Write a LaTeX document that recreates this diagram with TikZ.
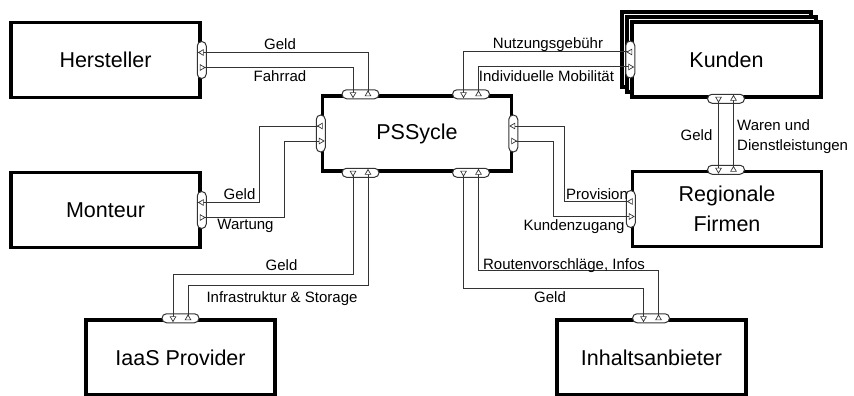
\documentclass[tikz,border=0pt]{standalone}
\usepackage{fontspec}
\setmainfont{Liberation Sans}
\usetikzlibrary{shapes.geometric}
\newcommand\mkvport[2]{\node[vport] (#1) at (#2) {};
  \coordinate (#1-a) at ([yshift=7.5pt]#1.center);
  \coordinate (#1-b) at ([yshift=-7.5pt]#1.center);}
\newcommand\mkhport[2]{\node[hport] (#1) at (#2) {};
  \coordinate (#1-a) at ([xshift=-7.5pt]#1.center);
  \coordinate (#1-b) at ([xshift=7.5pt]#1.center);}
\begin{document}
\begin{tikzpicture}[x=1pt,y=-1pt,
 box/.style={draw=black, line width=3.5pt, fill=white, minimum width=189pt, minimum height=75pt, inner sep=0pt, font=\fontsize{21.5}{30.5}\selectfont, align=center},
 hport/.style={draw=black!80, line width=1pt, fill=white, rounded corners=4.5pt, minimum width=37pt, minimum height=9pt, inner sep=0pt},
 vport/.style={hport, minimum width=9pt, minimum height=37pt},
 conn/.style={draw=black!80, line width=1pt},
 tri/.style={draw=black!80, fill=white, line width=0.7pt, regular polygon, regular polygon sides=3, minimum size=6.5pt, inner sep=0pt},
 lbl/.style={font=\fontsize{15}{18}\selectfont, inner sep=0pt, anchor=base}]
\useasboundingbox (0,0) rectangle (854,396);
% boxes
\node[box] (h) at (105.5,60) {Hersteller};
\node[box] (m) at (105.5,210) {Monteur};
\node[box] (ps) at (417,133.5) {PSSycle};
\node[box] (kb) at (716.5,49.5) {};
\node[box] (km) at (721.5,54.5) {};
\node[box] (k) at (726.5,59.5) {Kunden};
\node[box] (rf) at (727,209) {Regionale\\Firmen};
\node[box] (ia) at (180.5,357.5) {IaaS Provider};
\node[box] (in) at (651.5,357.5) {Inhaltsanbieter};
% ports
\mkvport{ph}{h.east}
\mkvport{pm}{m.east}
\mkhport{ptl}{[xshift=-56.5pt]ps.north}
\mkhport{ptr}{[xshift=54pt]ps.north}
\mkvport{pl}{ps.west}
\mkvport{prt}{ps.east}
\mkhport{pbl}{[xshift=-56.5pt]ps.south}
\mkhport{pbr}{[xshift=54pt]ps.south}
\mkvport{pk}{k.west}
\mkhport{pkb}{[xshift=-0.5pt]k.south}
\mkvport{prf}{rf.west}
\mkhport{prft}{[xshift=-1pt]rf.north}
\mkhport{pi}{ia.north}
\mkhport{pin}{[xshift=-0.5pt]in.north}
% connectors
\draw[conn] (ptl-b) |- (ph-a);
\draw[conn] (ph-b) -| (ptl-a);
\draw[conn] (pl-a) -- ++(-61,0) |- (pm-a);
\draw[conn] (pm-b) -- ++(83,0) |- (pl-b);
\draw[conn] (pk-a) -| (ptr-a);
\draw[conn] (ptr-b) |- (pk-b);
\draw[conn] (prf-a) -- ++(-66,0) |- (prt-a);
\draw[conn] (prt-b) -- ++(40,0) |- (prf-b);
\draw[conn] (pkb-a) -- (prft-a);
\draw[conn] (prft-b) -- (pkb-b);
\draw[conn] (pbl-a) -- ++(0,102) -| (pi-a);
\draw[conn] (pi-b) -- ++(0,-33) -| (pbl-b);
\draw[conn] (pbr-a) -- ++(0,116) -| (pin-a);
\draw[conn] (pin-b) -- ++(0,-48) -| (pbr-b);
% triangles
\foreach \p in {ph,pm,pl,prt,pk,prf} {
  \node[tri, shape border rotate=90] (\p-ta) at (\p-a) {};
  \node[tri, shape border rotate=-90] (\p-tb) at (\p-b) {};
}
\foreach \p in {ptl,ptr,pbl,pbr,pkb,prft,pi,pin} {
  \node[tri, shape border rotate=180] (\p-ta) at (\p-a) {};
  \node[tri] (\p-tb) at (\p-b) {};
}
% labels
\node[lbl] (t1) at (280,50) {Geld};
\node[lbl] (t2) at (280,81.5) {Fahrrad};
\node[lbl] (t3) at (239.5,199) {Geld};
\node[lbl] (t4) at (245.5,229) {Wartung};
\node[lbl] (t5) at (281.5,270.5) {Geld};
\node[lbl] (t6) at (282,302) {Infrastruktur \& Storage};
\node[lbl] (t7) at (564,269) {Routenvorschläge, Infos};
\node[lbl] (t8) at (550,302.5) {Geld};
\node[lbl] (t9) at (548,48.5) {Nutzungsgebühr};
\node[lbl] (t10) at (546.5,81.5) {Individuelle Mobilität};
\node[lbl] (t11) at (696.5,140.5) {Geld};
\node[lbl, anchor=base west] (t12) at (737,130) {Waren und};
\node[lbl, anchor=base west] (t13) at (737,150) {Dienstleistungen};
\node[lbl] (t14) at (597,199) {Provision};
\node[lbl] (t15) at (574,230) {Kundenzugang};
\end{tikzpicture}
\end{document}
